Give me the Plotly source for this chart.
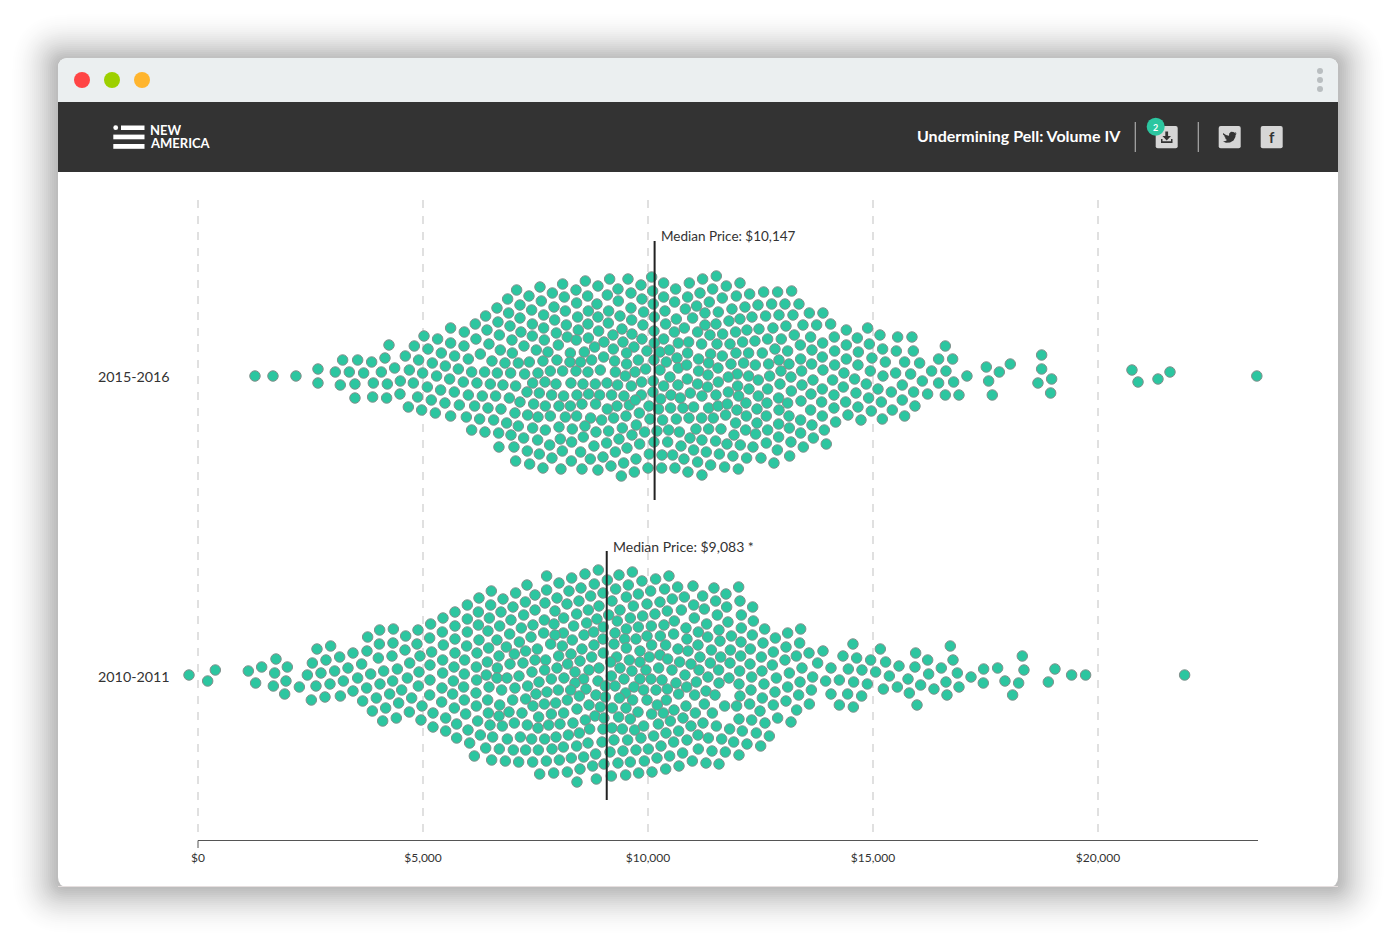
import plotly.graph_objects as go

W, H = 1396, 945

CATEGORIES = ["2015-2016", "2010-2011"]
TICK_VALUES = [0, 5000, 10000, 15000, 20000]
TICK_LABELS = ["$0", "$5,000", "$10,000", "$15,000", "$20,000"]
MEDIANS = [10147, 9083]
MEDIAN_LABELS = ["Median Price: $10,147", "Median Price: $9,083 *"]

# (price in dollars, swarm offset from the category centre)
swarm_2015 = [
(1266,0),(1666,0),(2177,0),(2666,7),(2666,-7),(3214,16),(3548,16),(3859,14),(4155,18),(4244,31),(3051,4),(3362,4),(3681,3),(4074,4),(4370,8),
(3162,-9),(3488,-8),(3896,-7),(4207,-8),(3488,-22),(3881,-21),(4192,-22),(4496,-5),(4488,-18),(4607,20),(4807,30),(5022,40),(5325,37),(5614,48),
(5111,27),(4903,16),(4696,6),(5407,23),(5207,13),(4992,3),(4785,-7),(4881,-21),(4674,-31),(4970,-34),(5274,-37),(5614,-40),(5096,-11),(5303,0),
(5496,10),(5703,20),(5614,33),(5911,30),(5918,44),(6162,52),(6392,60),(6644,68),(6881,77),(7081,86),(6422,46),(6177,37),(6007,17),(5785,7),(5592,-3),
(5392,-14),(5184,-24),(5488,-27),(5696,-16),(5896,-6),(6081,4),(6274,22),(6466,32),(6666,54),(6903,63),(7155,71),(6696,41),(6933,50),(7155,58),
(6977,36),(6718,26),(6533,15),(6822,13),(6985,23),(7118,13),(6370,4),(6651,3),(6947,3),(6199,-7),(6496,-8),(6777,-9),(7059,-10),(6007,-19),(6318,-20),
(6614,-20),(6918,-22),(5807,-29),(6148,-30),(6444,-32),(6733,-33),(7044,-37),(7155,-26),(5963,-41),(6259,-43),(6570,-44),(6859,-47),(7118,-50),
(6081,-54),(6377,-56),(6681,-57),(6955,-59),(6688,-71),(7022,-71),(7059,-85),
(7600,89),(8103,92),(8607,95),(9148,97),(9555,97),(10081,99),(10348,93),(10918,93),(11214,97),(11518,100),(12044,93),(11740,90),(11437,87),(10614,87),
(9844,91),(9333,87),(8888,90),(8400,86),(7874,83),(7355,80),(7629,75),(8140,79),(8659,80),(9096,81),(9622,83),(10103,85),(10348,79),(10881,79),(11155,83),
(11963,80),(11651,78),(11362,74),(12259,82),(12570,84),(12881,84),(10592,74),(9866,77),(9340,75),(8866,72),(8414,73),(7911,69),(7414,66),
(8163,65),(8674,65),(9125,65),(9622,68),(10118,72),(10377,65),(10829,67),(11081,70),(11866,67),(12155,69),(12444,71),(12748,72),(13044,72),(11562,64),
(11266,63),(9903,64),(9377,60),(8888,59),(8437,59),(7681,61),(7926,56),(7429,52),(8185,51),(8666,52),(9118,53),(9637,56),(10140,59),(10629,57),(10992,58),
(11799,55),(12044,57),(12311,59),(12614,60),(12911,61),(11511,52),(11266,51),(10392,52),(9888,51),(9422,47),(8903,45),(8451,46),(7681,48),(7177,44),
(7963,43),(7429,40),(8207,39),(8674,38),(9222,41),(9644,42),(10133,45),(10585,44),(10807,48),(11103,44),(11947,44),(12199,46),(12466,47),(12777,48),
(13066,50),(11659,42),(11377,41),(10348,37),(9866,37),(9444,34),(9022,34),(8407,36),(7696,36),(7244,30),(8007,31),(7518,26),(8814,29),(9688,29),(9229,27),
(10140,33),(10674,33),(10903,34),(11192,32),(11533,32),(11822,32),(12103,34),(12377,35),(12659,37),(12962,37),(8585,24),(8274,23),(7777,24),(7363,14),
(7666,15),(7977,16),(8266,14),(8503,14),(8748,16),(9014,19),(9525,23),(9977,25),(10266,24),(10474,26),(10881,23),(11392,22),(11651,20),(11955,23),
(12236,23),(12540,23),(12822,27),(13103,25),(9259,15),(9785,16),(10133,16),(10644,18),(10407,14),(11125,17),(11348,13),(11844,12),(12125,13),(12385,11),
(12681,12),(12911,16),(9525,12),(7259,2),(7555,3),(7829,5),(8103,5),(8400,5),(8666,4),(8940,6),(9274,4),(9711,4),(9948,7),(10266,6),(10674,8),(10859,11),
(11125,5),(11555,8),(12955,5),(9496,0),(11333,1),(11985,2),(12236,0),(12451,-4),(12703,0),(10488,-1),(10874,-3),(11785,-1),
(7437,-7),(7711,-6),(7955,-8),(8288,-7),(8555,-8),(8829,-8),(9088,-7),(9325,-9),(9629,-10),(9859,-6),(10118,-5),(10348,-10),(10666,-9),(11103,-8),(11562,-6),
(11325,-11),(11992,-10),(12244,-13),(12933,-8),(12659,-13),(7311,-16),(7585,-17),(7859,-19),(8125,-20),(8422,-19),(8681,-18),(8925,-19),(9192,-19),(9466,-20),
(9851,-19),(10111,-16),(10511,-19),(10718,-22),(10940,-17),(11199,-20),(11511,-19),(11785,-16),(12014,-20),(12451,-20),(12903,-22),(7459,-28),(7718,-30),
(8022,-30),(8274,-30),(8533,-28),(8836,-28),(9311,-30),(9585,-29),(9718,-24),(10022,-30),(10281,-23),(10503,-32),(10777,-32),(11014,-31),(11348,-32),
(11555,-30),(11762,-28),(12177,-27),(12644,-27),(13103,-27),(7326,-39),(7555,-41),(7829,-40),(8163,-41),(8414,-40),(8725,-42),(9096,-33),(8970,-44),(9237,-42),
(9511,-40),(9807,-37),(10044,-43),(10236,-33),(10325,-44),(10629,-43),(10911,-42),(11192,-42),(11451,-42),(11725,-39),(11977,-34),(12185,-40),(12422,-33),
(12629,-40),(12911,-34),(7437,-52),(7718,-54),(8022,-51),(8318,-53),(8599,-50),(8844,-56),(9125,-55),(9429,-52),(9740,-49),(9925,-56),(10199,-55),(10459,-54),
(10696,-56),(11066,-53),(11348,-53),(11622,-53),(11947,-47),(12170,-54),(12422,-47),(12659,-54),(12903,-48),(12392,-58),(11911,-59),(7237,-62),(7548,-64),
(8051,-63),(8562,-61),(8303,-66),(7814,-69),(9355,-63),(9644,-59),(9081,-67),(8799,-70),(9814,-68),(10133,-66),(10437,-66),(10933,-62),(11199,-64),(11503,-65),
(11755,-68),(12051,-69),(12333,-71),(12629,-67),(12903,-61),(7318,-75),(7585,-78),(8096,-75),(8503,-76),(9274,-76),(9533,-72),(10029,-78),(10311,-79),(10733,-70),
(11014,-74),(11296,-76),(11585,-78),(11888,-80),(12192,-82),(12511,-82),(12874,-74),(7370,-88),(7666,-92),(7866,-82),(8066,-93),(8296,-85),(8533,-93),(8718,-83),
(8888,-94),(9000,-81),(9177,-90),(9459,-87),(9733,-83),(9696,-96),(10000,-92),(10548,-79),(10799,-83),(10303,-92),(10599,-92),(10888,-96),(11103,-86),(11392,-89),
(11703,-91),(12007,-93),(12799,-87),(9407,-100),(11199,-99),
(13192,85),(13355,72),(13222,61),(13585,63),(13888,63),(13444,51),(13748,51),(14059,52),(13251,41),(13614,39),(14140,39),(14407,46),(14881,48),(14651,38),
(15155,41),(15548,39),(15866,39),(13385,31),(13881,33),(14407,31),(14918,32),(15214,27),(15518,25),(15896,25),(16607,30),(13644,26),(14148,25),(14674,24),
(13392,17),(13874,19),(14407,17),(14977,18),(15274,14),(15703,14),(16036,13),(16459,17),(16770,17),(13637,12),(14148,11),(14666,11),(13414,5),(13888,6),(14355,3),
(14940,5),(15503,3),(15837,2),(16303,5),(16622,5),(17088,0),(17518,9),(17807,4),(18051,12),(18748,21),(18748,7),(13177,-1),(13666,-4),(14103,-4),(14592,-3),
(15222,0),(16096,-5),(16459,-7),(16792,-6),(17570,-5),(18666,-7),(18970,-3),(18948,-17),(13422,-9),(14340,-11),(14851,-8),(15651,-9),(13185,-15),(13874,-13),
(15111,-13),(13622,-18),(14133,-19),(14622,-17),(15407,-16),(15903,-16),(16214,-18),(16607,-19),(16911,-19),(17651,-19),(13400,-25),(13859,-26),(14392,-26),
(14903,-22),(15185,-26),(15651,-24),(15933,-30),(13614,-34),(14133,-32),(14666,-31),(14962,-35),(15429,-34),(15703,-40),(13874,-40),(14444,-39),(14733,-44),
(15207,-43),(13392,-44),(13644,-49),(14170,-46),(13392,-57),(13918,-54),(13674,-62),(13962,-68),(13451,-71),(13177,-66),(13148,-80),(13140,-52),(13133,-40),(13133,12),
(20755,6),(21600,4),(20890,-6),(21333,-3),(23530,0),
]

swarm_2010 = [
(-200,1),(215,-5),(385,6),(1118,5),(1281,-7),(1415,9),(1733,17),(1985,9),(1704,3),(1955,-5),(1674,-10),(1926,-18),(2252,-11),(2430,1),(2622,-10),(2518,-24),
(2822,-21),(3163,-20),(2933,-8),(2733,3),(2541,13),(2644,27),(2948,30),(2844,16),(3148,19),(3037,5),(3333,8),(3444,23),(3230,-5),(3548,-2),(3637,12),(3755,25),
(3770,39),(4037,46),(4341,47),(4030,32),(4007,18),(3837,2),(3444,-15),(3748,-12),(4126,5),(4044,-8),(3659,-25),(3963,-22),(4259,-18),(4333,33),(4311,20),(4615,40),
(4600,26),(4430,7),(4326,-5),(4652,-2),(4704,13),(4889,46),(4866,32),(4933,20),(4911,4),(4526,-14),(4896,-10),(4459,-27),(4748,-22),(3874,-35),(4170,-32),(4104,-45),
(4407,-42),(4696,-36),(4978,-30),(4955,-44),(5155,11),(5155,-4),(5148,-19),(5170,52),(5148,38),(5192,24),(5444,58),(5429,44),(5452,31),(5437,16),(5437,3),(5422,-12),
(5415,-26),(5222,-37),(5504,-42),(5222,-51),(5504,-55),(5711,64),(5711,50),(5711,37),(5711,23),(5689,9),(5674,-5),(5659,-18),(5696,-32),(5748,-48),(5748,-62),
(7748,100),(8022,93),(8304,98),(8600,102),(8896,106),(9096,96),(9355,101),(9652,104),(9866,95),(10170,97),(10466,100),(7311,91),(6518,85),(6244,78),(5985,71),(6778,77),
(7059,83),(7274,74),(7489,81),(7748,86),(7978,78),(7711,73),(8244,85),(8511,88),(8807,92),(9000,83),(9281,87),(9563,91),(9785,82),(10059,85),(10370,87),(10659,89),
(11000,90),(11466,88),(11215,80),(10807,79),(10540,77),(10266,74),(9978,72),(9674,70),(9518,79),(9200,75),(8726,80),(8466,75),(8200,72),(8911,70),(8674,66),(8415,62),
(7933,65),(7489,66),(7000,69),(6504,71),(6230,64),(6733,64),(7237,61),(7696,56),(8126,58),(6474,58),(5985,57),(6955,56),(7444,51),(7911,52),(8348,50),(8637,53),(8866,57),
(9126,61),(9378,66),(9881,60),(10155,62),(10429,65),(10741,66),(11015,71),(11252,67),(11503,75),(11733,82),(11748,69),(9318,55),(9607,58),(9785,49),(10074,50),(10355,51),
(10585,55),(11029,58),(11540,61),(11303,52),(10844,48),(11118,44),(11577,46),(11777,54),(6230,51),(6704,50),(7185,48),(7681,43),(8118,43),(9007,49),(8792,44),(8578,41),
(7933,41),(5985,44),(6444,45),(6926,42),(7400,39),(8318,36),(9267,43),(9518,47),(9481,37),(9733,37),(9978,40),(10274,40),(10570,42),(10866,37),(11326,39),(11600,35),
(6244,36),(6644,36),(7141,34),(7837,32),(8096,30),(8800,31),(9000,37),(9244,32),(9518,28),(10081,31),(10392,31),(10666,27),(11111,31),(5970,30),(6459,28),(6852,29),(7541,27),
(7281,25),(8533,27),(8289,22),(9007,23),(9822,25),(10889,25),(11407,26),(6200,23),(7030,22),(6689,20),(8015,20),(8748,19),(9304,19),(10266,21),(10437,17),(10030,19),
(11155,19),(11615,19),(5926,16),(6430,14),(6933,12),(7222,13),(7489,16),(7726,16),(8215,12),(8489,15),(9170,14),(9585,16),(9822,14),(10704,14),(10955,12),(11385,13),
(6185,9),(6652,8),(7978,8),(7704,6),(8911,8),(9378,8),(10237,8),(10533,6),(11133,6),(11570,6),(5918,2),(6407,1),(7422,4),(8378,4),(8689,6),(9644,5),(9955,6),(10822,1),(6193,-4),
(6644,-2),(6867,-2),(7133,0),(7852,-3),(8133,-2),(8570,-3),(8889,-5),(9185,0),(9467,-3),(9822,-3),(10067,-3),(10311,-4),(10622,-7),(11074,-6),(11333,-1),(11578,-7),
(5904,-11),(6467,-11),(6748,-14),(7044,-12),(7326,-10),(7578,-6),(8378,-7),(8007,-14),(8281,-14),(8622,-13),(9052,-10),(9267,-10),(9689,-11),(9904,-14),(10178,-14),(10430,-13),
(10859,-11),(6178,-17),(7511,-18),(7755,-16),(8474,-20),(8844,-19),(9052,-21),(9504,-17),(10681,-18),(11037,-19),(11289,-15),(11489,-19),
(5918,-24),(6437,-24),(6993,-24),(7281,-23),(8207,-24),(9363,-22),(9659,-24),(9978,-24),(10407,-24),(6185,-30),(6704,-29),(7444,-30),(7696,-28),(7948,-27),(8689,-29),
(8941,-31),(9207,-32),(9511,-32),(10207,-29),(10844,-30),(11252,-28),(11704,-30),(5948,-38),(6452,-37),(6911,-36),(7200,-37),(7852,-38),(8126,-37),(8422,-33),(8822,-40),(9022,-42),
(9348,-41),(9778,-36),(10081,-38),(10341,-37),(10578,-34),(11052,-37),(11430,-37),(6689,-40),(7570,-41),(6215,-45),(7030,-47),(8607,-44),(9607,-43),(10496,-45),(10778,-42),
(11222,-47),(6489,-49),(6763,-50),(7318,-49),(7556,-52),(7793,-49),(8044,-48),(8333,-47),(8704,-53),(9000,-53),(9200,-52),(9430,-53),(9704,-54),(9904,-50),(10230,-48),
(10681,-55),(10955,-50),(11519,-50),(6000,-54),(6274,-59),(6548,-61),(6874,-63),(7163,-61),(7415,-63),(7704,-63),(7956,-61),(8230,-59),(8474,-57),(8667,-67),(8978,-66),(9244,-64),
(9548,-64),(9844,-62),(10126,-60),(10400,-57),(10570,-66),(10867,-64),(11111,-59),(11341,-62),(11637,-63),(6037,-67),(6393,-72),(6696,-73),(7007,-74),(7281,-74),(7563,-74),(7867,-73),
(8119,-71),(8415,-70),(8837,-78),(9156,-76),(9444,-75),(9733,-74),(10007,-73),(10289,-70),(10770,-77),(11118,-73),(11422,-75),(11718,-76),(6141,-80),(6526,-84),(6830,-85),(7126,-86),
(7437,-86),(7741,-85),(8030,-84),(8296,-82),(8570,-81),(9022,-88),(9333,-87),(9607,-86),(9919,-85),(10200,-82),(10481,-80),(10985,-85),(11289,-87),(11578,-88),
(7593,-98),(7904,-97),(8207,-96),(8489,-93),(8770,-90),(9185,-100),(9504,-99),(9793,-97),(10089,-96),(10393,-93),(10689,-90),(8422,-106),(8852,-103),
(12015,89),(12044,75),(12326,69),(12074,61),(12341,55),(12074,48),(12593,47),(11852,40),(12318,41),(12830,38),(13104,43),(13393,47),(12067,34),(12556,33),(13067,29),(13370,33),
(11830,26),(12274,27),(12785,24),(13578,23),(13889,25),(14555,32),(15163,27),(15948,23),(16718,30),(12059,20),(12518,19),(13296,20),(13044,16),(14333,20),(14637,18),(14948,16),
(15281,14),(15578,10),(16215,16),(16778,16),(11822,13),(12267,12),(12763,11),(13770,13),(14067,8),(14452,7),(14755,6),(15059,4),(15933,9),(16518,8),(13422,8),(12037,5),(12533,5),
(13141,3),(15363,0),(16237,2),(16874,3),(17459,7),(17770,8),(11800,-2),(12304,-1),(12852,-2),(13659,-1),(14252,-4),(13948,-5),(14570,-6),(14874,-8),(15778,-3),(17178,-1),(16622,-6),
(12022,-8),(12578,-8),(13378,-6),(13104,-11),(16059,-9),(16355,-13),(15230,-13),(15541,-11),(16911,-11),(17451,-7),(12289,-14),(12822,-16),(13630,-14),(12044,-20),(12541,-22),
(13348,-19),(14067,-18),(14437,-18),(14748,-20),(15807,-17),(16644,-19),(13067,-25),(11970,-30),(12259,-28),(12785,-29),(12489,-35),(13585,-28),(13304,-34),(14252,-29),(14563,-31),
(15978,-29),(12022,-43),(12304,-44),(12600,-47),(12881,-42),(13178,-46),(11815,-53),(12096,-55),(12407,-57),(12696,-60),(11904,-66),(12200,-68),(12504,-70),(12022,-79),
(18103,-19),(18237,-7),(18355,6),(18318,20),(17933,-5),(18896,-6),(19044,7),(19414,1),(19725,1),(21925,1),
]

price_2015 = [p for p, _ in swarm_2015]
offset_2015 = [o for _, o in swarm_2015]
price_2010 = [p for p, _ in swarm_2010]
offset_2010 = [o for _, o in swarm_2010]

BASE = {"2015-2016": 465, "2010-2011": 165}
TEAL = "#2cc6a0"
EDGE = "#82908c"
TEXT = "#333333"
FONT = "Lato"
AXIS_END = 23556


def X(px):
    return px / W


def Y(py):
    return 1 - py / H


def rr(x0, y0, x1, y1, r, bottom=True):
    a, b, c, d = X(x0), Y(y0), X(x1), Y(y1)
    rx, ry = r / W, r / H
    p = f"M{a + rx},{b} L{c - rx},{b} Q{c},{b} {c},{b - ry} "
    if bottom:
        p += f"L{c},{d + ry} Q{c},{d} {c - rx},{d} L{a + rx},{d} Q{a},{d} {a},{d + ry} "
    else:
        p += f"L{c},{d} L{a},{d} "
    p += f"L{a},{b - ry} Q{a},{b} {a + rx},{b} Z"
    return p


def poly(points):
    return "M" + " L".join(f"{X(x)},{Y(y)}" for x, y in points) + " Z"


shapes = []


def path(p, fill, line=None):
    shapes.append(dict(type="path", xref="paper", yref="paper", path=p, fillcolor=fill,
                       line=dict(width=0 if line is None else 1, color=line or fill), layer="below"))


def rect(x0, y0, x1, y1, fill):
    shapes.append(dict(type="rect", xref="paper", yref="paper", x0=X(x0), x1=X(x1), y0=Y(y0), y1=Y(y1),
                       fillcolor=fill, line=dict(width=0), layer="below"))


def circle(cx, cy, r, fill):
    shapes.append(dict(type="circle", xref="paper", yref="paper", x0=X(cx - r), x1=X(cx + r), y0=Y(cy - r), y1=Y(cy + r),
                       fillcolor=fill, line=dict(width=0), layer="below"))


# soft window shadow: nested rounded rectangles, outermost first
SHADOW_REACH = 50
SHADOW_PEAK = 0.27
for s in range(SHADOW_REACH, 0, -2):
    alpha = SHADOW_PEAK * (((1 - (s - 2) / SHADOW_REACH) ** 2) - ((1 - s / SHADOW_REACH) ** 2))
    path(rr(58 - s, 58 - s + 2, 1338 + s, 887 + s, 10 + s), f"rgba(0,0,0,{alpha:.5f})")

# window
path(rr(58, 58, 1338, 887, 10), "#ffffff")
path(rr(58, 58, 1338, 103, 10, bottom=False), "#ebeff0")
rect(58, 102, 1338, 172, "#333333")
rect(58, 886, 1338, 887, "#e6dfdf")
circle(82, 80, 8, "#ff4545")
circle(112, 80, 8, "#9dd000")
circle(142, 80, 8, "#ffb52e")
for yy in (71, 80, 89):
    circle(1320, yy, 3, "#b9bec0")

# logo
circle(115.7, 127.7, 2.4, "#ffffff")
rect(121, 125.5, 144.5, 130, "#ffffff")
rect(113.3, 134.6, 144.5, 139.3, "#ffffff")
rect(113.3, 144, 144.5, 148.8, "#ffffff")

# header controls
rect(1134.7, 122, 1135.9, 152, "#aaaaaa")
rect(1197.7, 122, 1198.9, 152, "#aaaaaa")
path(rr(1155.7, 126, 1177.7, 148.3, 2), "#d6d6d6")
path(rr(1218.7, 126, 1240.7, 148.3, 2), "#d6d6d6")
path(rr(1260.7, 126, 1282.7, 148.3, 2), "#d6d6d6")
path(poly([(1165.3, 131.5), (1168.1, 131.5), (1168.1, 136), (1171, 136), (1166.7, 140.5), (1162.4, 136), (1165.3, 136)]), "#333333")
path(poly([(1161, 139), (1162.5, 139), (1162.5, 141.3), (1171, 141.3), (1171, 139), (1172.5, 139), (1172.5, 143), (1161, 143)]), "#333333")
circle(1155.7, 126.7, 9, TEAL)
path(poly([(1223, 133), (1226, 135), (1229, 135.8), (1229.2, 133.5), (1231, 131.8), (1233.5, 132), (1234.5, 132.8),
           (1236.2, 132.2), (1235.4, 133.8), (1236.8, 133.5), (1235.6, 135), (1235.4, 137), (1233.5, 140.5), (1230, 142.5),
           (1226, 142.8), (1223, 141.5), (1225.5, 141), (1227, 140), (1224.8, 138.6), (1226, 138.4), (1224, 136.3),
           (1225.2, 136.4), (1223, 134.5)]), "#333333")

# mask the grid's last stretch above the baseline
rect(190, 833, 1110, 841.5, "#ffffff")
shapes[-1]["layer"] = "above"
# baseline with its end tick at $0
shapes.append(dict(type="line", xref="x", yref="paper", x0=0, x1=AXIS_END, y0=Y(840.5), y1=Y(840.5),
                   line=dict(color="#555555", width=1), layer="above"))
shapes.append(dict(type="line", xref="x", yref="paper", x0=0, x1=0, y0=Y(840.5), y1=Y(848),
                   line=dict(color="#555555", width=1), layer="above"))


def note(text, px, py, size, color=TEXT, bold=False, anchor="left", height=None):
    t = f"<b>{text}</b>" if bold else text
    return dict(text=t, x=X(px), y=Y(py), xref="paper", yref="paper", xanchor=anchor, yanchor="middle",
                showarrow=False, font=dict(family=FONT, size=size, color=color), height=height,
                borderpad=0 if height else 1)


annotations = [
    note("NEW", 148.5, 129.5, 13, "#ffffff", True, height=12),
    note("AMERICA", 148.5, 143, 13, "#ffffff", True, height=12),
    note("Undermining Pell: Volume IV", 915, 136, 16, "#ffffff", True),
    note("2", 1155.7, 127, 9, "#ffffff", True, "center"),
    note("f", 1271.7, 137, 15, "#333333", True, "center"),
    note(CATEGORIES[0], 96, 376.5, 14.3),
    note(CATEGORIES[1], 96, 676.5, 14.3),
    note(MEDIAN_LABELS[0], 659, 236.5, 13.5),
    note(MEDIAN_LABELS[1], 611, 546.5, 14),
]

fig = go.Figure()
series = [(CATEGORIES[0], price_2015, offset_2015), (CATEGORIES[1], price_2010, offset_2010)]
for cat, prices, offsets in series:
    base = BASE[cat]
    fig.add_trace(go.Scatter(x=prices, y=[base + o for o in offsets], mode="markers", name=cat, cliponaxis=False,
                             marker=dict(size=10.5, color=TEAL, line=dict(width=1, color=EDGE)), showlegend=False))

spans = [(135, -124), (125, -124)]
for cat, med, (top, bottom) in zip(CATEGORIES, MEDIANS, spans):
    base = BASE[cat]
    fig.add_trace(go.Scatter(x=[med, med], y=[base + top, base + bottom], mode="lines", cliponaxis=False,
                             line=dict(color="#222222", width=2), showlegend=False))

# x axis runs a little past the drawn baseline on both sides so the outer points stay visible
fig.update_layout(
    width=W, height=H, margin=dict(l=0, r=0, t=0, b=0, autoexpand=False), paper_bgcolor="#ffffff", plot_bgcolor="rgba(0,0,0,0)",
    font=dict(family=FONT, color=TEXT), shapes=shapes, annotations=annotations,
    xaxis=dict(domain=[X(180), X(1276)], range=[-18 / 0.045, AXIS_END + 18 / 0.045], tickmode="array", tickvals=TICK_VALUES, ticktext=TICK_LABELS,
               showgrid=True, gridcolor="#e0e0e0", gridwidth=2, griddash="8px,8px", zeroline=False, showline=False,
               ticks="outside", ticklen=6, tickcolor="rgba(0,0,0,0)", automargin=False,
               tickfont=dict(size=12, color=TEXT, family=FONT)),
    yaxis=dict(domain=[Y(841), Y(200)], range=[0, 641], visible=False, automargin=False),
)

fig.write_html("out.html", config={"displayModeBar": False},
               post_script="document.body.style.margin='0';document.body.style.overflow='hidden';")
